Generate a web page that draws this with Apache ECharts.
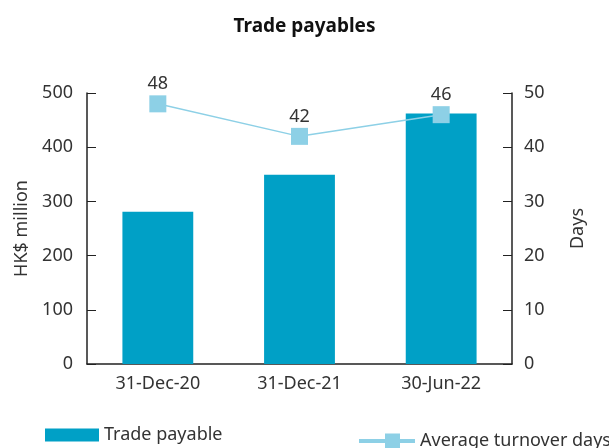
<!DOCTYPE html>
<html>
<head>
<meta charset="utf-8">
<script src="https://cdn.jsdelivr.net/npm/echarts@6/dist/echarts.min.js"></script>
<style>
  html, body { margin: 0; padding: 0; background: #fff; }
  #chart { width: 609px; height: 448px; }
</style>
</head>
<body>
<div id="chart"></div>
<script>
const categories = ['31-Dec-20', '31-Dec-21', '30-Jun-22']
const tradePayable = [281, 349, 462]
const turnoverDays = [48, 42, 46]

const font = 'Noto Sans'
const textColor = '#333333'
const axisColor = '#222222'
const barColor = '#00a0c6'
const lineColor = '#8dd0e6'

// line with a square in the middle, for the legend
const lineIcon = 'path://M0,5.5L26,5.5L26,0L41,0L41,5.5L56,5.5L56,9.5L41,9.5L41,15L26,15L26,9.5L0,9.5Z'

const chart = echarts.init(document.getElementById('chart'))

chart.setOption({
  animation: false,
  textStyle: { fontFamily: font },
  title: {
    text: 'Trade payables',
    left: 'center',
    top: 12,
    textStyle: { fontFamily: font, fontSize: 19, fontWeight: 'bold', color: '#111' }
  },
  legend: [
    {
      data: [{ name: 'Trade payable', icon: 'rect' }],
      left: 40,
      top: 421,
      itemWidth: 54,
      itemHeight: 13,
      itemGap: 10,
      textStyle: { fontFamily: font, fontSize: 18, color: textColor }
    },
    {
      data: [{ name: 'Average turnover days', icon: lineIcon, itemStyle: { color: lineColor } }],
      left: 354,
      top: 427,
      itemWidth: 56,
      itemHeight: 15,
      textStyle: { fontFamily: font, fontSize: 18, color: textColor }
    }
  ],
  grid: { left: 87, right: 97, top: 93, bottom: 84 },
  xAxis: {
    type: 'category',
    data: categories,
    axisLine: { lineStyle: { color: axisColor, width: 1.5 } },
    axisTick: { inside: true, length: 7, lineStyle: { color: axisColor } },
    axisLabel: { fontFamily: font, fontSize: 18, color: textColor, margin: 11, interval: 0 }
  },
  yAxis: [
    {
      type: 'value',
      min: 0,
      max: 500,
      interval: 100,
      name: 'HK$ million',
      nameLocation: 'middle',
      nameGap: 56,
      nameTextStyle: { fontFamily: font, fontSize: 18, color: textColor },
      axisLine: { show: true, lineStyle: { color: axisColor, width: 1.5 } },
      axisTick: { show: true, inside: true, length: 9, lineStyle: { color: axisColor } },
      axisLabel: { fontFamily: font, fontSize: 18, color: textColor, margin: 14 },
      splitLine: { show: false }
    },
    {
      type: 'value',
      min: 0,
      max: 50,
      interval: 10,
      name: 'Days',
      nameLocation: 'middle',
      nameGap: 57,
      nameRotate: 90,
      nameTextStyle: { fontFamily: font, fontSize: 18, color: textColor },
      axisLine: { show: true, lineStyle: { color: axisColor, width: 1.5 } },
      axisTick: { show: true, inside: true, length: 9, lineStyle: { color: axisColor } },
      axisLabel: { fontFamily: font, fontSize: 18, color: textColor, margin: 12 },
      splitLine: { show: false }
    }
  ],
  series: [
    {
      name: 'Trade payable',
      type: 'bar',
      data: tradePayable,
      barWidth: '50%',
      itemStyle: { color: barColor }
    },
    {
      name: 'Average turnover days',
      type: 'line',
      yAxisIndex: 1,
      data: turnoverDays,
      symbol: 'rect',
      symbolSize: 17,
      lineStyle: { color: lineColor, width: 1.5 },
      itemStyle: { color: lineColor },
      label: {
        show: true,
        position: 'top',
        distance: 2,
        fontFamily: font,
        fontSize: 18,
        color: textColor
      }
    }
  ]
})
</script>
</body>
</html>
